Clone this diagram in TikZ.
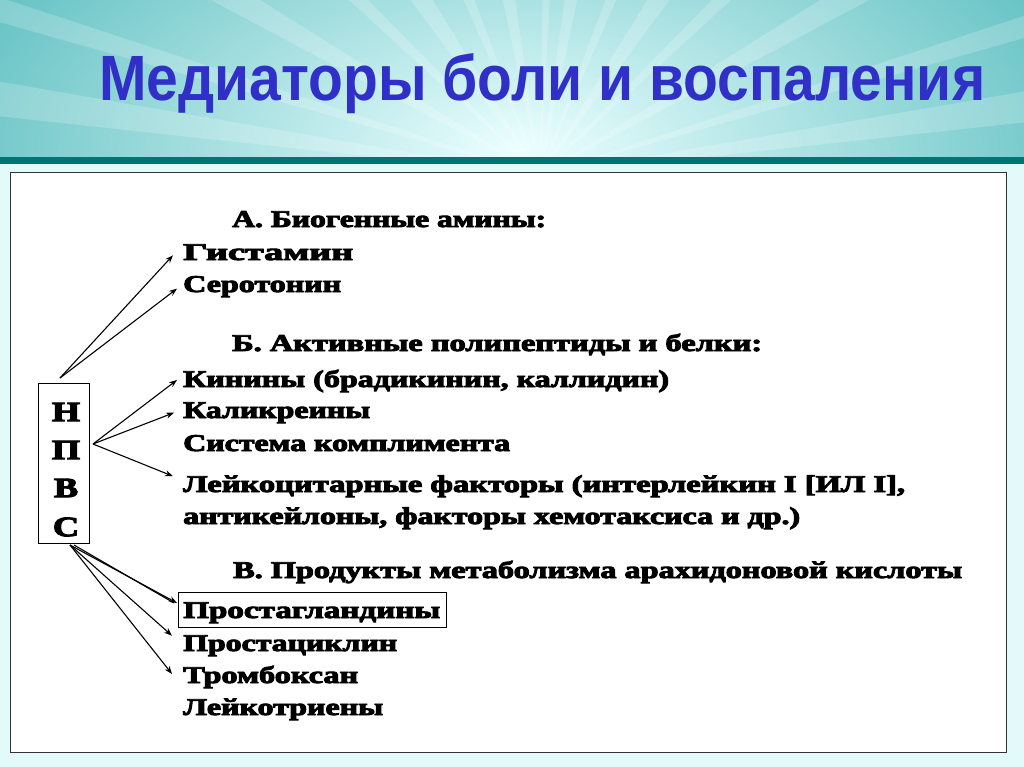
\documentclass[tikz,border=0pt]{standalone}
\usepackage{fontspec}
\usepackage{graphicx}
\setmainfont{Liberation Serif}[BoldFeatures={FakeBold=3.5}]
\newfontfamily\titlefont{Liberation Sans}
\usetikzlibrary{arrows.meta,calc}
\definecolor{titleblue}{RGB}{48,48,200}
\definecolor{teallight}{RGB}{92,190,192}
\definecolor{glow}{RGB}{236,255,255}
\definecolor{tealbar}{RGB}{0,118,116}
\definecolor{pagebg}{RGB}{226,250,250}
\newcommand\fitw[2]{\setbox0=\hbox{#2}\pgfmathparse{#1/\the\wd0}\edef\myscx{\pgfmathresult}\scalebox{\myscx}[1]{\box0}}
\tikzset{
  itemtxt/.style={anchor=base west, inner sep=0pt, font=\fontsize{24}{26}\selectfont\bfseries},
  arr/.style={-{Stealth[length=8pt,width=6pt]}, line width=1.1pt, black},
  ray/.style={fill=white, opacity=0.2, draw=none},
}
\begin{document}
\begin{tikzpicture}[x=1pt,y=-1pt]
\useasboundingbox (0,0) rectangle (1024,767);
% page background
\fill[pagebg] (0,0) rectangle (1024,767);
% header
\begin{scope}
\clip (0,0) rectangle (1024,157);
\fill[teallight] (0,0) rectangle (1024,157);
\shade[inner color=glow, outer color=teallight] (520,150) ellipse (640 and 330);
\coordinate (F) at (540,175);
\foreach \a/\w in {100/2,112/1.5,124/2.5,136/1.5,150/2,163/1.2,172/1.8,80/2,68/1.5,56/2.5,44/1.5,30/2,17/1.2,8/1.8,92/1.2}{
  \fill[ray] (F) -- ($(F)+({\a-\w}:-700)$) -- ($(F)+({\a+\w}:-700)$) -- cycle;
}
\end{scope}
\fill[tealbar] (0,157) rectangle (1024,164);
% title
\node[anchor=base west, inner sep=0pt, text=titleblue, font=\titlefont\fontsize{64}{70}\selectfont\bfseries] (title) at (99,101) {\fitw{886}{Медиаторы боли и воспаления}};
% main white frame
\draw[fill=white, draw=black!80, line width=0.8pt] (10,172) rectangle (1006,752);
% NPVS box
\node[draw, line width=0.9pt, minimum width=51pt, minimum height=160pt, inner sep=0pt] (npvs) at (63.5,463) {};
\foreach \l/\yy in {Н/412,П/450,В/488,С/527}{
  \node[inner sep=0pt, font=\fontsize{28}{29}\selectfont\bfseries] at (66,\yy) {\scalebox{1.3}[1]{\l}};
}
% section A
\node[itemtxt] (hA) at (232,227) {\fitw{314}{А. Биогенные амины:}};
\node[itemtxt] (gist) at (183,260) {\fitw{170}{Гистамин}};
\node[itemtxt] (sero) at (183,292) {\fitw{158}{Серотонин}};
% section B
\node[itemtxt] (hB) at (232,351) {\fitw{530}{Б. Активные полипептиды и белки:}};
\node[itemtxt] (kin) at (183,387) {\fitw{486}{Кинины (брадикинин, каллидин)}};
\node[itemtxt] (kal) at (183,418) {\fitw{187}{Каликреины}};
\node[itemtxt] (sys) at (183,451) {\fitw{327}{Система комплимента}};
\node[itemtxt] (leu) at (183,492) {\fitw{722}{Лейкоцитарные факторы (интерлейкин I [ИЛ I],}};
\node[itemtxt] (ant) at (183,524) {\fitw{617}{антикейлоны, факторы хемотаксиса и др.)}};
% section C
\node[itemtxt] (hC) at (233,578) {\fitw{729}{В. Продукты метаболизма арахидоновой кислоты}};
\node[itemtxt] (pg) at (183,618) {\fitw{257}{Простагландины}};
\draw[line width=0.9pt] (178,592) rectangle (446,627);
\coordinate (pgbox) at (178,603);
\node[itemtxt] (pc) at (183,651) {\fitw{214}{Простациклин}};
\node[itemtxt] (tb) at (183,683) {\fitw{175}{Тромбоксан}};
\node[itemtxt] (lt) at (183,715) {\fitw{200}{Лейкотриены}};
% arrows
\coordinate (sA) at (60,378);
\coordinate (sB) at (93,444);
\coordinate (sC) at (70,545);
\coordinate (sC2) at (74,545);
\draw[arr] (sA) -- ([xshift=-10pt,yshift=-3pt]gist.west);
\draw[arr] (sA) -- ([xshift=-6pt,yshift=-2pt]sero.west);
\draw[arr] (sB) -- ([xshift=-6pt,yshift=1pt]kin.west);
\draw[arr] (sB) -- ([xshift=-9pt,yshift=0pt]kal.west);
\draw[arr] (sB) -- ([xshift=-10pt,yshift=10pt]leu.west);
\draw[arr] (sC) -- ([xshift=-1pt]pgbox);
\draw[line width=1.1pt] (sC2) -- ([xshift=-4pt]pgbox);
\draw[arr] (sC) -- ([xshift=-11pt,yshift=10pt]pc.west);
\draw[arr] (sC) -- ([xshift=-11pt,yshift=3pt]tb.west);
\end{tikzpicture}
\end{document}
